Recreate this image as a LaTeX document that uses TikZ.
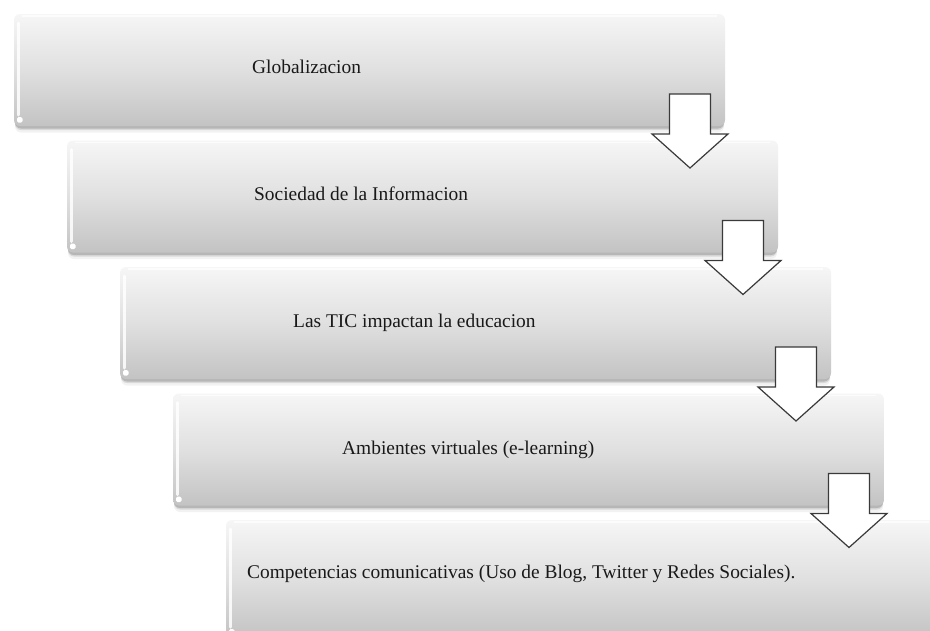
\documentclass[tikz,border=0pt]{standalone}
\usepackage{fontspec}
\setmainfont{Liberation Serif}
\usetikzlibrary{calc,backgrounds}
\definecolor{boxtop}{HTML}{F6F6F6}
\definecolor{boxmid}{HTML}{E0E0E0}
\definecolor{boxbot}{HTML}{C3C3C3}
\definecolor{arrline}{HTML}{3A3A3A}
\tikzset{
  stagebox/.style={anchor=north west, minimum width=711pt, minimum height=112pt,
    rounded corners=6pt, inner sep=0pt, outer sep=0pt,
    top color=boxtop, bottom color=boxbot, middle color=boxmid, draw=none},
  stagetext/.style={anchor=base west, inner sep=0pt, font=\fontsize{19.4}{22}\selectfont, text=black!90},
  downarrow/.style={draw=arrline, line width=1.2pt, fill=white, line join=miter},
  shadowband/.style={fill=black, rounded corners=6pt},
}
\newcommand{\stageshadow}[1]{%
  \fill[shadowband, opacity=0.05] ($(#1.north west)+(1,5)$) rectangle ($(#1.south east)+(-1,6.5)$);
  \fill[shadowband, opacity=0.10] ($(#1.north west)+(1,3)$) rectangle ($(#1.south east)+(-1,4)$);
  \fill[shadowband, opacity=0.16] ($(#1.north west)+(1,2)$) rectangle ($(#1.south east)+(-1,2.5)$);
}
\newcommand{\stagebevel}[1]{%
  \draw[white, opacity=0.85, line width=3pt, line cap=round] ($(#1.north west)+(4,9)$) -- ($(#1.south west)+(4,-11)$);
  \fill[white, rounded corners=1.5pt] ($(#1.south west)+(3,-3.5)$) rectangle ($(#1.south west)+(8.5,-9)$);
  \draw[white, opacity=0.7, line width=1.5pt] ($(#1.north west)+(8,2)$) -- ($(#1.north east)+(-8,2)$);
}
\newcommand{\blockarrow}[1]{%
  \draw[downarrow, shift={(#1)}] (-20.5,-74) -- (20.5,-74) -- (20.5,-34) -- (38,-34) -- (0,0) -- (-38,-34) -- (-20.5,-34) -- cycle;
}
\begin{document}
\begin{tikzpicture}[x=1pt, y=-1pt]
\useasboundingbox (0,0) rectangle (930,630);

\node[stagebox] (b1) at (14,14) {};
\node[stagebox] (b2) at (67,140.5) {};
\node[stagebox] (b3) at (120,267) {};
\node[stagebox] (b4) at (173,393.5) {};
\node[stagebox, minimum height=118pt] (b5) at (226,520) {};

\begin{pgfonlayer}{background}
\fill[white] (0,0) rectangle (930,630);
\foreach \b in {b1,b2,b3,b4}{\stageshadow{\b}}
\end{pgfonlayer}
\foreach \b in {b1,b2,b3,b4,b5}{\stagebevel{\b}}

\node[stagetext] (t1) at (252,73) {Globalizacion};
\node[stagetext] (t2) at (254,200) {Sociedad de la Informacion};
\node[stagetext] (t3) at (293,327) {Las TIC impactan la educacion};
\node[stagetext] (t4) at (342,454) {Ambientes virtuales (e-learning)};
\node[stagetext] (t5) at (247,578) {Competencias comunicativas (Uso de Blog, Twitter y Redes Sociales).};

\coordinate (a1) at ($(b1.south east)+(-35,42)$);
\coordinate (a2) at ($(b2.south east)+(-35,42)$);
\coordinate (a3) at ($(b3.south east)+(-35,42)$);
\coordinate (a4) at ($(b4.south east)+(-35,42)$);
\blockarrow{a1}
\blockarrow{a2}
\blockarrow{a3}
\blockarrow{a4}
\end{tikzpicture}
\end{document}
